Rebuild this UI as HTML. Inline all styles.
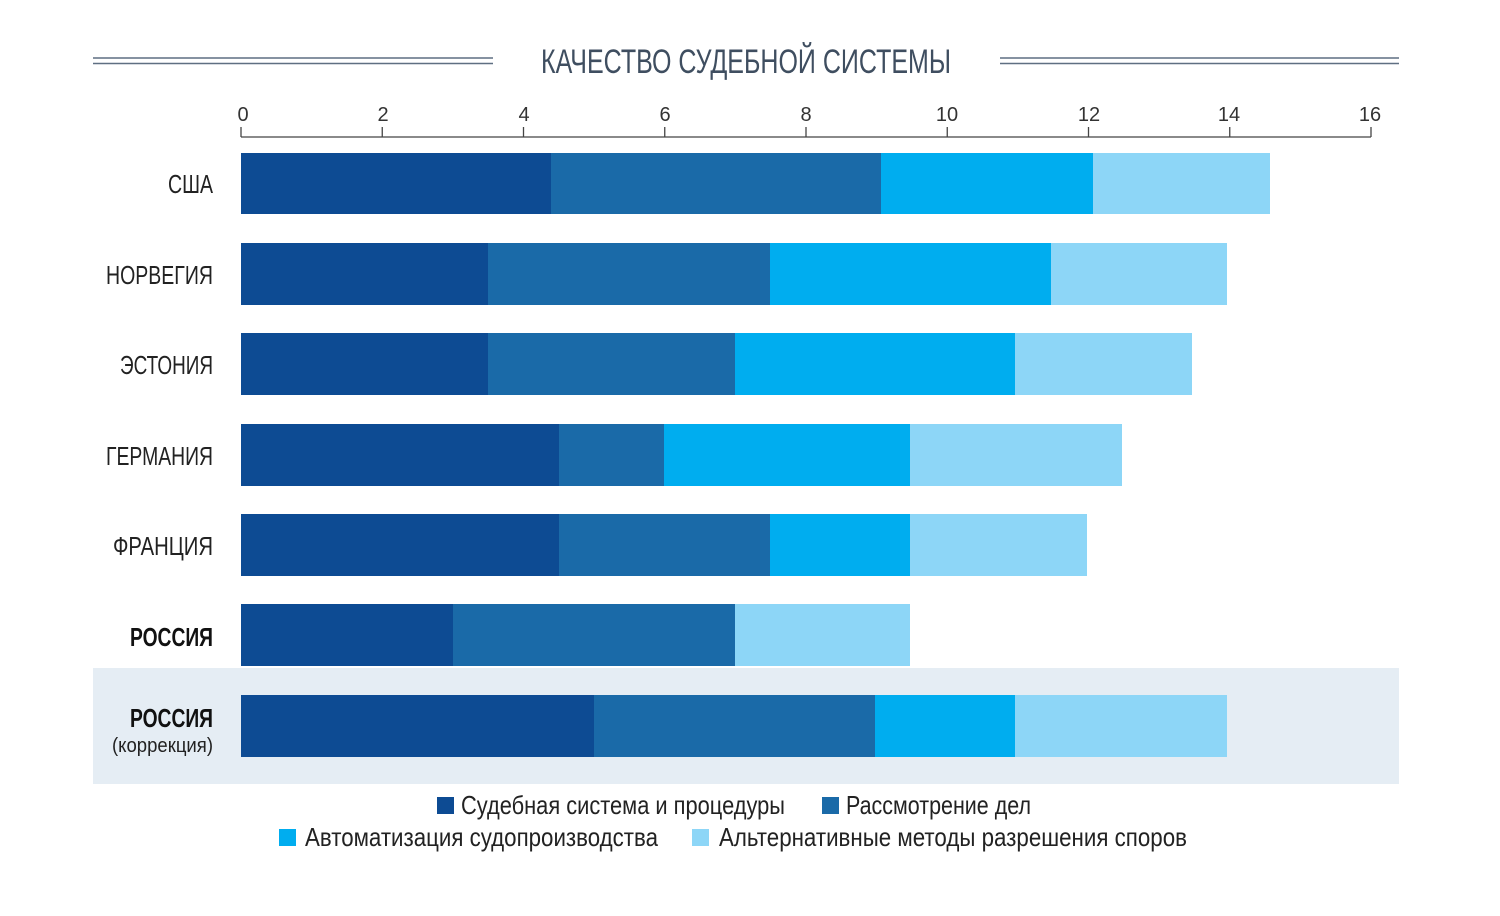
<!DOCTYPE html>
<html><head><meta charset="utf-8"><style>
html,body{margin:0;padding:0;background:#fff;}
svg{display:block;font-family:"Liberation Sans Narrow","Liberation Sans",sans-serif;}
</style></head><body>
<svg width="1500" height="916" viewBox="0 0 1500 916" xmlns="http://www.w3.org/2000/svg">
<rect x="93" y="668" width="1306" height="116" fill="#e5edf4"/>
<g stroke="#5f6f82" stroke-width="1.6">
<line x1="93" y1="58" x2="493" y2="58"/><line x1="93" y1="63.5" x2="493" y2="63.5"/>
<line x1="1000" y1="58" x2="1399" y2="58"/><line x1="1000" y1="63.5" x2="1399" y2="63.5"/>
</g>
<text x="541" y="73" font-size="34" fill="#3f4e60" textLength="410" lengthAdjust="spacingAndGlyphs">КАЧЕСТВО СУДЕБНОЙ СИСТЕМЫ</text>
<g stroke="#444" stroke-width="1.3">
<line x1="241" y1="137" x2="1371" y2="137"/>
<line x1="241" y1="127" x2="241" y2="137"/><line x1="382.25" y1="127" x2="382.25" y2="137"/>
<line x1="523.5" y1="127" x2="523.5" y2="137"/><line x1="664.75" y1="127" x2="664.75" y2="137"/>
<line x1="806" y1="127" x2="806" y2="137"/><line x1="947.25" y1="127" x2="947.25" y2="137"/>
<line x1="1088.5" y1="127" x2="1088.5" y2="137"/><line x1="1229.75" y1="127" x2="1229.75" y2="137"/>
<line x1="1371" y1="127" x2="1371" y2="137"/>
</g>
<g font-size="20" fill="#333" text-anchor="middle">
<text x="243" y="121">0</text><text x="383" y="121">2</text><text x="524" y="121">4</text><text x="665" y="121">6</text><text x="806" y="121">8</text><text x="947" y="121">10</text><text x="1089" y="121">12</text><text x="1229" y="121">14</text><text x="1370" y="121">16</text>
</g>
<g>
<rect x="241" y="153" width="310" height="61" fill="#0d4b93"/><rect x="551" y="153" width="330" height="61" fill="#1a6aa8"/><rect x="881" y="153" width="212" height="61" fill="#00adef"/><rect x="1093" y="153" width="177" height="61" fill="#8dd6f7"/>
<rect x="241" y="243" width="247" height="62" fill="#0d4b93"/><rect x="488" y="243" width="282" height="62" fill="#1a6aa8"/><rect x="770" y="243" width="281" height="62" fill="#00adef"/><rect x="1051" y="243" width="176" height="62" fill="#8dd6f7"/>
<rect x="241" y="333" width="247" height="62" fill="#0d4b93"/><rect x="488" y="333" width="247" height="62" fill="#1a6aa8"/><rect x="735" y="333" width="280" height="62" fill="#00adef"/><rect x="1015" y="333" width="177" height="62" fill="#8dd6f7"/>
<rect x="241" y="424" width="318" height="62" fill="#0d4b93"/><rect x="559" y="424" width="105" height="62" fill="#1a6aa8"/><rect x="664" y="424" width="246" height="62" fill="#00adef"/><rect x="910" y="424" width="212" height="62" fill="#8dd6f7"/>
<rect x="241" y="514" width="318" height="62" fill="#0d4b93"/><rect x="559" y="514" width="211" height="62" fill="#1a6aa8"/><rect x="770" y="514" width="140" height="62" fill="#00adef"/><rect x="910" y="514" width="177" height="62" fill="#8dd6f7"/>
<rect x="241" y="604" width="212" height="62" fill="#0d4b93"/><rect x="453" y="604" width="282" height="62" fill="#1a6aa8"/><rect x="735" y="604" width="175" height="62" fill="#8dd6f7"/>
<rect x="241" y="695" width="353" height="62" fill="#0d4b93"/><rect x="594" y="695" width="281" height="62" fill="#1a6aa8"/><rect x="875" y="695" width="140" height="62" fill="#00adef"/><rect x="1015" y="695" width="212" height="62" fill="#8dd6f7"/>
</g>
<g font-size="26" fill="#222" text-anchor="end">
<text x="213" y="193" textLength="45" lengthAdjust="spacingAndGlyphs">США</text>
<text x="213" y="284" textLength="107" lengthAdjust="spacingAndGlyphs">НОРВЕГИЯ</text>
<text x="213" y="374" textLength="93" lengthAdjust="spacingAndGlyphs">ЭСТОНИЯ</text>
<text x="213" y="465" textLength="107" lengthAdjust="spacingAndGlyphs">ГЕРМАНИЯ</text>
<text x="213" y="555" textLength="100" lengthAdjust="spacingAndGlyphs">ФРАНЦИЯ</text>
<text x="213" y="646" font-weight="bold" fill="#111" textLength="83" lengthAdjust="spacingAndGlyphs">РОССИЯ</text>
<text x="213" y="727" font-weight="bold" fill="#111" textLength="83" lengthAdjust="spacingAndGlyphs">РОССИЯ</text>
<text x="213" y="752" font-size="20" textLength="101" lengthAdjust="spacingAndGlyphs">(коррекция)</text>
</g>
<rect x="437" y="797" width="17" height="17" fill="#0d4b93"/>
<rect x="822" y="797" width="17" height="17" fill="#1a6aa8"/>
<rect x="279" y="829" width="17" height="17" fill="#00adef"/>
<rect x="692" y="829" width="17" height="17" fill="#8dd6f7"/>
<g font-size="26" fill="#222">
<text x="461" y="814" textLength="324" lengthAdjust="spacingAndGlyphs">Судебная система и процедуры</text>
<text x="846" y="814" textLength="185" lengthAdjust="spacingAndGlyphs">Рассмотрение дел</text>
<text x="305" y="846" textLength="353" lengthAdjust="spacingAndGlyphs">Автоматизация судопроизводства</text>
<text x="719" y="846" textLength="468" lengthAdjust="spacingAndGlyphs">Альтернативные методы разрешения споров</text>
</g>
</svg>
</body></html>
